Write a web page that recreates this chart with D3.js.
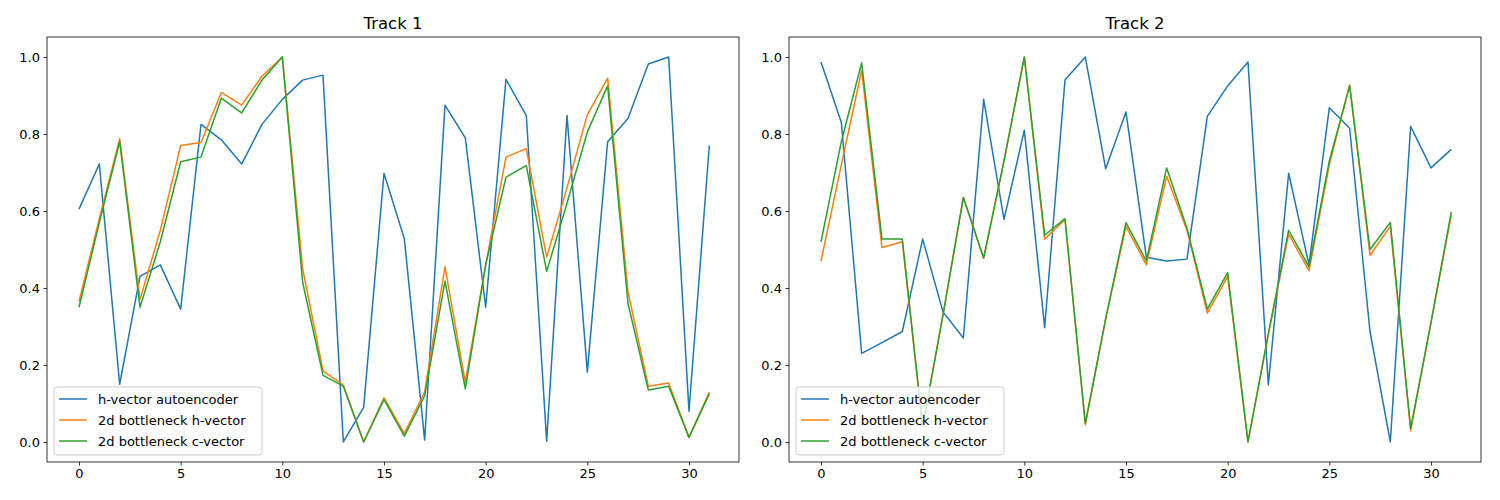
<!DOCTYPE html>
<html><head><meta charset="utf-8">
<script src="https://cdn.jsdelivr.net/npm/d3@7"></script>
<style>body{margin:0;background:#fff;font-family:"DejaVu Sans",sans-serif}</style>
</head><body><svg id="c" width="1500" height="500"></svg>
<script>
const seriesNames=["h-vector autoencoder","2d bottleneck h-vector","2d bottleneck c-vector"];
const colors=["#1f77b4","#ff7f0e","#2ca02c"];
const titles=["Track 1","Track 2"];
const xTicks=[0,5,10,15,20,25,30];
const yTicks=[0,0.2,0.4,0.6,0.8,1.0];
const t1Auto=[0.605,0.722,0.15,0.43,0.46,0.345,0.825,0.785,0.722,0.825,0.89,0.94,0.953,0.0,0.09,0.698,0.528,0.005,0.875,0.79,0.35,0.942,0.848,0.002,0.848,0.182,0.78,0.84,0.982,1.0,0.08,0.77];
const t1H=[0.365,0.58,0.788,0.37,0.55,0.77,0.778,0.908,0.875,0.95,1.0,0.45,0.185,0.148,0.0,0.115,0.022,0.13,0.455,0.155,0.46,0.74,0.762,0.48,0.66,0.85,0.945,0.39,0.145,0.153,0.012,0.13];
const t1C=[0.35,0.57,0.78,0.35,0.52,0.728,0.74,0.893,0.855,0.94,1.0,0.415,0.173,0.145,0.0,0.11,0.015,0.12,0.418,0.138,0.46,0.688,0.718,0.443,0.62,0.805,0.925,0.36,0.135,0.145,0.012,0.125];
const t2Auto=[0.987,0.83,0.23,0.258,0.287,0.527,0.338,0.27,0.89,0.578,0.81,0.297,0.94,1.0,0.71,0.857,0.48,0.47,0.475,0.846,0.925,0.987,0.148,0.698,0.46,0.868,0.815,0.287,0.0,0.82,0.712,0.76];
const t2H=[0.47,0.72,0.965,0.505,0.52,0.04,0.33,0.635,0.477,0.73,1.0,0.527,0.578,0.045,0.32,0.56,0.46,0.69,0.55,0.335,0.43,0.0,0.28,0.54,0.445,0.72,0.928,0.485,0.56,0.03,0.31,0.59];
const t2C=[0.52,0.78,0.985,0.527,0.527,0.04,0.33,0.635,0.478,0.73,1.0,0.537,0.58,0.048,0.32,0.57,0.47,0.712,0.555,0.345,0.44,0.0,0.28,0.55,0.455,0.73,0.925,0.5,0.57,0.035,0.31,0.598];
const panels=[[t1Auto,t1H,t1C],[t2Auto,t2H,t2C]];
const svg=d3.select("#c");
const lefts=[47,789], W=692, topY=37, H=425;
panels.forEach((data,pi)=>{
  const g=svg.append("g").attr("transform",`translate(${lefts[pi]},${topY})`);
  const x=d3.scaleLinear().domain([-1.574,32.46]).range([0,W]);
  const y=d3.scaleLinear().domain([-0.052,1.052]).range([H,0]);
  const line=d3.line().x((d,i)=>x(i)).y(d=>y(d));
  data.forEach((s,si)=>g.append("path").datum(s).attr("d",line).attr("fill","none").attr("stroke",colors[si]).attr("stroke-width",1.5).attr("stroke-linejoin","round"));
  const xa=g.append("g").attr("transform",`translate(0,${H})`).call(d3.axisBottom(x).tickValues(xTicks).tickSize(3.5).tickPadding(3.5).tickFormat(d3.format("d")));
  const ya=g.append("g").call(d3.axisLeft(y).tickValues(yTicks).tickSize(3.5).tickPadding(3.5).tickFormat(d3.format(".1f")));
  [xa,ya].forEach(a=>{a.select(".domain").remove();a.selectAll("text").attr("font-size",13).attr("font-family","DejaVu Sans").attr("fill","#000");a.selectAll("line").attr("stroke","#000").attr("stroke-width",0.8);});
  g.append("rect").attr("width",W).attr("height",H).attr("fill","none").attr("stroke","#000").attr("stroke-width",0.8);
  g.append("text").attr("x",W/2).attr("y",-8).attr("text-anchor","middle").attr("font-size",16.5).text(titles[pi]);
  const lg=g.append("g").attr("transform",`translate(7,${H-75})`);
  lg.append("rect").attr("width",208).attr("height",68).attr("rx",3).attr("fill","#fff").attr("fill-opacity",0.8).attr("stroke","#ccc");
  seriesNames.forEach((n,i)=>{
    lg.append("line").attr("x1",5).attr("x2",33).attr("y1",12+i*21).attr("y2",12+i*21).attr("stroke",colors[i]).attr("stroke-width",1.5);
    lg.append("text").attr("x",44).attr("y",17+i*21).attr("font-size",13).text(n);
  });
});
</script></body></html>
